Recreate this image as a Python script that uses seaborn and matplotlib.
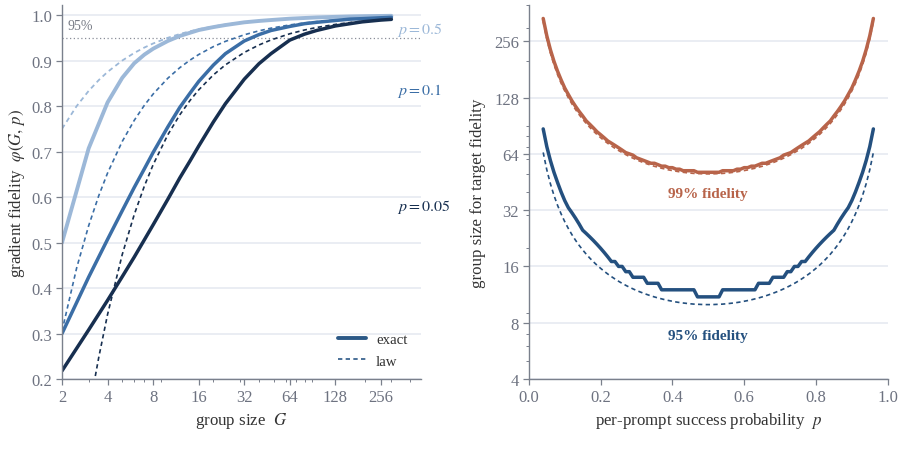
import numpy as np
import pandas as pd
import seaborn as sns
import matplotlib.pyplot as plt
from matplotlib.lines import Line2D
from matplotlib.ticker import LogLocator, NullFormatter
from matplotlib.transforms import blended_transform_factory

# ---- left panel: fidelity vs group size ----
G_exact = [2, 3, 4, 5, 6, 7, 8, 10, 12, 14, 16, 20, 24, 32, 40, 48, 64, 80, 96, 128, 160, 192, 256, 300]
phi_exact_p50 = [0.500, 0.707, 0.808, 0.862, 0.894, 0.913, 0.926, 0.943, 0.954, 0.961, 0.967, 0.9735, 0.978,
                 0.984, 0.987, 0.989, 0.992, 0.9935, 0.9947, 0.996, 0.9969, 0.9974, 0.998, 0.9983]
phi_exact_p10 = [0.300, 0.424, 0.507, 0.570, 0.621, 0.662, 0.698, 0.754, 0.797, 0.828, 0.854, 0.890, 0.915,
                 0.943, 0.957, 0.966, 0.975, 0.981, 0.984, 0.988, 0.991, 0.992, 0.994, 0.995]
phi_exact_p05 = [0.218, 0.308, 0.373, 0.425, 0.468, 0.506, 0.539, 0.595, 0.642, 0.679, 0.712, 0.765, 0.805,
                 0.859, 0.893, 0.915, 0.945, 0.958, 0.966, 0.976, 0.981, 0.985, 0.989, 0.9905]

G_law = [2, 2.5, 3, 3.5, 4, 5, 6, 7, 8, 10, 12, 14, 16, 20, 24, 32, 40, 48, 64, 80, 96, 128, 160, 192, 256, 300]
phi_law_p50 = [0.750, 0.800, 0.8333, 0.8571, 0.875, 0.900, 0.9167, 0.9286, 0.9375, 0.950, 0.9583, 0.9643, 0.9688,
               0.975, 0.9792, 0.9844, 0.9875, 0.9896, 0.9922, 0.9938, 0.9948, 0.9961, 0.9969, 0.9974, 0.998, 0.9983]
phi_law_p10 = [0.3056, 0.4444, 0.537, 0.6032, 0.6528, 0.7222, 0.7685, 0.8016, 0.8264, 0.8611, 0.8843, 0.9008,
               0.9132, 0.9306, 0.9421, 0.9566, 0.9653, 0.9711, 0.9783, 0.9826, 0.9855, 0.9891, 0.9913, 0.9928,
               0.9946, 0.9954]
G_law_p05 = [3.25, 3.5, 4, 5, 6, 7, 8, 10, 12, 14, 16, 20, 24, 32, 40, 48, 64, 80, 96, 128, 160, 192, 256, 300]
phi_law_p05 = [0.190, 0.2481, 0.3421, 0.4737, 0.5614, 0.6241, 0.6711, 0.7368, 0.7807, 0.812, 0.8355, 0.8684,
               0.8904, 0.9178, 0.9342, 0.9452, 0.9589, 0.9671, 0.9726, 0.9794, 0.9836, 0.9863, 0.9897, 0.9912]

# ---- right panel: group size needed for a target fidelity, p = 0.04 .. 0.50 (curve is symmetric) ----
p_half = [round(0.04 + 0.01 * i, 2) for i in range(47)]
g95_exact_half = [87, 70, 59, 51, 45, 40, 36, 33, 31, 29, 27, 25, 24, 23, 22, 21, 20, 19, 18, 17, 17, 16, 16,
                  15, 15, 14, 14, 14, 14, 13, 13, 13, 13, 12, 12, 12, 12, 12, 12, 12, 12, 12, 12, 11, 11, 11, 11]
g95_law_half = [65.10, 52.63, 44.33, 38.40, 33.97, 30.53, 27.78, 25.54, 23.67, 22.10, 20.76, 19.61, 18.60, 17.72,
                16.94, 16.24, 15.63, 15.07, 14.57, 14.12, 13.71, 13.33, 12.99, 12.68, 12.40, 12.14, 11.90, 11.69,
                11.49, 11.31, 11.14, 10.99, 10.85, 10.73, 10.61, 10.51, 10.42, 10.33, 10.26, 10.20, 10.15, 10.10,
                10.06, 10.04, 10.02, 10.00, 10.00]
g99_exact_half = [339, 274, 231, 200, 177, 159, 144, 133, 123, 115, 108, 102, 96, 92, 88, 84, 81, 78, 75, 73,
                  71, 69, 67, 65, 64, 63, 61, 60, 59, 58, 57, 57, 56, 55, 55, 54, 54, 53, 53, 52, 52, 52, 52,
                  51, 51, 51, 51]
g99_law_half = [325.5, 263.2, 221.6, 192.0, 169.8, 152.6, 138.9, 127.7, 118.4, 110.5, 103.8, 98.0, 93.0, 88.6,
                84.7, 81.2, 78.1, 75.3, 72.8, 70.6, 68.5, 66.7, 65.0, 63.4, 62.0, 60.7, 59.5, 58.4, 57.4, 56.5,
                55.7, 54.9, 54.3, 53.6, 53.1, 52.5, 52.1, 51.7, 51.3, 51.0, 50.7, 50.5, 50.3, 50.2, 50.1, 50.0, 50.0]

# mirror around p = 0.5
p_grid = p_half + [round(1 - v, 2) for v in p_half[-2::-1]]
g95_exact = g95_exact_half + g95_exact_half[-2::-1]
g95_law = g95_law_half + g95_law_half[-2::-1]
g99_exact = g99_exact_half + g99_exact_half[-2::-1]
g99_law = g99_law_half + g99_law_half[-2::-1]

# colours
c_p50 = "#9cb8d8"
c_p10 = "#3b6ea6"
c_p05 = "#172f50"
c_red = "#b8644a"
c_blue = "#24507f"
c_tick = "#6d7280"
c_label = "#333333"
c_grid = "#e4e8f0"
c_spine = "#7a808c"

sns.set_theme(style="white")
plt.rcParams['font.family'] = ['Liberation Serif', 'DejaVu Serif']
plt.rcParams['mathtext.fontset'] = 'stix'

fig = plt.figure(figsize=(9.04, 4.64), dpi=100)
ax1 = fig.add_axes([0.0686, 0.181, 0.397, 0.806])
ax2 = fig.add_axes([0.585, 0.181, 0.397, 0.806])

dash = (0, (2.6, 2.0))

# left panel curves
for xs, ys, col, lw in [(G_law, phi_law_p50, c_p50, 1.3), (G_law, phi_law_p10, c_p10, 1.2),
                        (G_law_p05, phi_law_p05, c_p05, 1.2)]:
    sns.lineplot(x=xs, y=ys, color=col, lw=lw, linestyle=dash, ax=ax1, estimator=None)
for xs, ys, col, lw in [(G_exact, phi_exact_p50, c_p50, 2.8), (G_exact, phi_exact_p10, c_p10, 2.5),
                        (G_exact, phi_exact_p05, c_p05, 2.5)]:
    sns.lineplot(x=xs, y=ys, color=col, lw=lw, ax=ax1, estimator=None)

ax1.axhline(0.95, color="#8a8f99", lw=0.9, linestyle=(0, (1, 2)), zorder=1)

ax1.set_xscale('log')
ax1.set_xlim(2, 470)
ax1.set_ylim(0.2, 1.022)
xt = [2, 4, 8, 16, 32, 64, 128, 256]
ax1.set_xticks(xt, [str(v) for v in xt])
ax1.xaxis.set_minor_locator(LogLocator(base=10, subs=np.arange(2, 10)))
ax1.xaxis.set_minor_formatter(NullFormatter())
yt = [0.2, 0.3, 0.4, 0.5, 0.6, 0.7, 0.8, 0.9, 1.0]
ax1.set_yticks(yt, [f"{v:.1f}" for v in yt])
ax1.set_xlabel("group size  $G$", fontsize=12.2, color=c_label, labelpad=4)
ax1.set_ylabel(r"gradient fidelity  $\varphi(G,\, p)$", fontsize=12.2, color=c_label, labelpad=3)

tr = blended_transform_factory(ax1.transAxes, ax1.transData)
ax1.text(0.014, 0.977, "95%", transform=tr, fontsize=10, color="#777b85", va="center", ha="left")
ax1.text(0.933, 0.969, "$p = 0.5$", transform=tr, fontsize=11.5, color=c_p50, va="center", ha="left")
ax1.text(0.933, 0.835, "$p = 0.1$", transform=tr, fontsize=11.5, color=c_p10, va="center", ha="left")
ax1.text(0.933, 0.580, "$p = 0.05$", transform=tr, fontsize=11.5, color=c_p05, va="center", ha="left")

handles = [Line2D([], [], color="#2b5886", lw=2.8), Line2D([], [], color="#2b5886", lw=1.2, linestyle=dash)]
ax1.legend(handles, ["exact", "law"], loc="lower right", bbox_to_anchor=(1.0, -0.005), frameon=False,
           fontsize=10.7, handlelength=1.9, handletextpad=0.7, labelspacing=0.55, labelcolor=c_label)

# right panel curves
sns.lineplot(x=p_grid, y=g99_law, color=c_red, lw=1.2, linestyle=dash, ax=ax2, estimator=None)
sns.lineplot(x=p_grid, y=g95_law, color=c_blue, lw=1.2, linestyle=dash, ax=ax2, estimator=None)
sns.lineplot(x=p_grid, y=g99_exact, color=c_red, lw=2.5, ax=ax2, estimator=None)
sns.lineplot(x=p_grid, y=g95_exact, color=c_blue, lw=2.5, ax=ax2, estimator=None)

ax2.set_yscale('log')
ax2.set_xlim(0, 1)
ax2.set_ylim(4, 400)
yt2 = [4, 8, 16, 32, 64, 128, 256]
ax2.set_yticks(yt2, [str(v) for v in yt2])
ax2.yaxis.set_minor_locator(LogLocator(base=10, subs=np.arange(2, 10)))
ax2.yaxis.set_minor_formatter(NullFormatter())
xt2 = [0.0, 0.2, 0.4, 0.6, 0.8, 1.0]
ax2.set_xticks(xt2, [f"{v:.1f}" for v in xt2])
ax2.set_xlabel("per-prompt success probability  $p$", fontsize=12.2, color=c_label, labelpad=4)
ax2.set_ylabel("group size for target fidelity", fontsize=12.2, color=c_label, labelpad=6)
ax2.text(0.5, 39.5, "99% fidelity", fontsize=11, fontweight="bold", color=c_red, ha="center", va="center")
ax2.text(0.5, 6.8, "95% fidelity", fontsize=11, fontweight="bold", color=c_blue, ha="center", va="center")

for ax in (ax1, ax2):
    ax.grid(False)
    ax.yaxis.grid(True, color=c_grid, lw=1.1)
    ax.set_axisbelow(True)
    for s in ("top", "right"):
        ax.spines[s].set_visible(False)
    for s in ("left", "bottom"):
        ax.spines[s].set_color(c_spine)
        ax.spines[s].set_linewidth(1.0)
    ax.tick_params(which="major", direction="out", length=4, width=0.9, color=c_spine,
                   labelsize=12, labelcolor=c_tick, bottom=True, left=True, pad=3)
    ax.tick_params(which="minor", direction="out", length=2.4, width=0.7, color=c_spine, bottom=True, left=True)

fig.savefig("out.png", dpi=100)
